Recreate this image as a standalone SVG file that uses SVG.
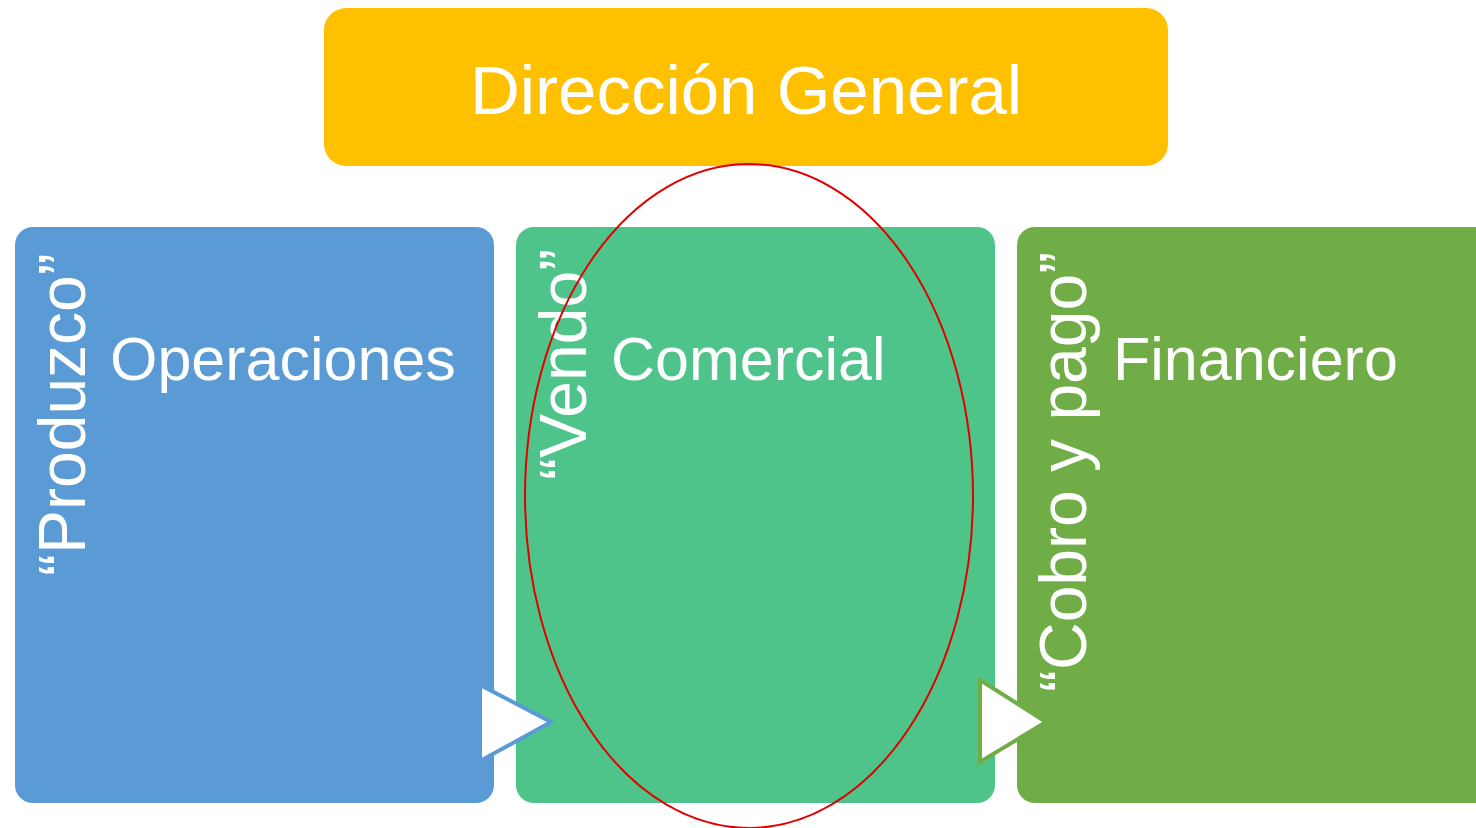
<svg xmlns="http://www.w3.org/2000/svg" width="1476" height="828" viewBox="0 0 1476 828">
<style>
.t{font-family:"Liberation Sans",Arial,sans-serif;fill:#fff}
.h{font-size:61px}
.v{font-size:66px}
</style>
<rect width="1476" height="828" fill="#fff"/>
<g id="direccion">
<rect x="324" y="8" width="844" height="158" rx="22" fill="#FFC000"/>
<text class="t" x="746" y="114" font-size="69" text-anchor="middle">Dirección General</text>
</g>
<g id="operaciones">
<rect x="15" y="227" width="479" height="576" rx="18" fill="#5B9BD5"/>
<text class="t h" x="110" y="380">Operaciones</text>
<text class="t v" transform="translate(85,576) rotate(-90)">“Produzco”</text>
</g>
<g id="comercial">
<rect x="516" y="227" width="479" height="576" rx="18" fill="#4EC48B"/>
<text class="t h" x="611" y="380">Comercial</text>
<text class="t v" transform="translate(586,480) rotate(-90)">“Vendo”</text>
</g>
<g id="financiero">
<rect x="1017" y="227" width="479" height="576" rx="18" fill="#70AD47"/>
<text class="t h" x="1113" y="380">Financiero</text>
<text class="t v" transform="translate(1086,692) rotate(-90)">“Cobro y pago”</text>
</g>
<g id="connectors">
<polygon points="482,686 551,722 482,760" fill="#fff"/>
<polyline points="482,686 551,722 482,760" fill="none" stroke="#5B9BD5" stroke-width="4"/>
<polygon points="980,680 1046,722 980,762" fill="#fff" stroke="#70AD47" stroke-width="4"/>
</g>
<ellipse cx="749" cy="496" rx="224" ry="332" fill="none" stroke="#E00000" stroke-width="2"/>
</svg>
